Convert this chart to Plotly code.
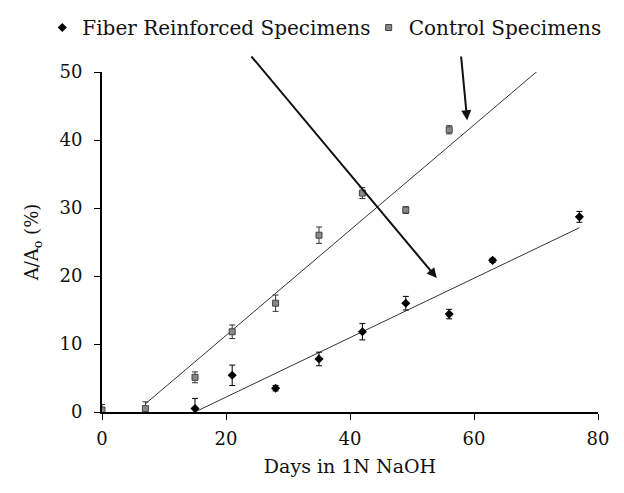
import plotly.graph_objects as go

# Data
fiber_days = [15, 21, 28, 35, 42, 49, 56, 63, 77]
fiber_vals = [0.5, 5.4, 3.5, 7.8, 11.8, 16.0, 14.4, 22.3, 28.7]
fiber_err = [1.5, 1.5, 0.4, 1.0, 1.2, 1.0, 0.7, 0.3, 0.8]

control_days = [0, 7, 15, 21, 28, 35, 42, 49, 56]
control_vals = [0.3, 0.5, 5.1, 11.8, 16.0, 26.0, 32.2, 29.7, 41.5]
control_err = [0.8, 1.0, 0.8, 1.0, 1.2, 1.2, 0.8, 0.5, 0.6]

# Linear fit lines (start day, end day, slope, intercept)
fiber_fit = dict(x0=15, x1=77, slope=0.437, intercept=-6.55)
control_fit = dict(x0=7, x1=70.6, slope=0.774, intercept=-4.22)

# Arrows (tail -> head) in data units
arrow_tails = [(23.9, 52.5), (57.9, 52.5)]
arrow_heads = [(54.0, 19.7), (58.9, 42.9)]

x_ticks = [0, 20, 40, 60, 80]
y_ticks = [0, 10, 20, 30, 40, 50]

FONT = "DejaVu Serif"

fig = go.Figure()

for fit in (control_fit, fiber_fit):
    xs = [fit["x0"], fit["x1"]]
    ys = [fit["slope"] * x + fit["intercept"] for x in xs]
    fig.add_trace(go.Scatter(x=xs, y=ys, mode="lines",
                             line=dict(color="#333333", width=1),
                             showlegend=False, hoverinfo="skip"))

fig.add_trace(go.Scatter(
    x=fiber_days, y=fiber_vals, mode="markers", name="Fiber Reinforced Specimens",
    marker=dict(symbol="diamond", size=7, color="black"),
    error_y=dict(type="data", array=fiber_err, color="black", thickness=1, width=3),
    legend="legend",
))
fig.add_trace(go.Scatter(
    x=control_days, y=control_vals, mode="markers", name="Control Specimens",
    marker=dict(symbol="square", size=6, color="#888888", line=dict(color="#444444", width=1)),
    error_y=dict(type="data", array=control_err, color="#333333", thickness=1, width=3),
    legend="legend2",
))

for (tx, ty), (hx, hy) in zip(arrow_tails, arrow_heads):
    fig.add_annotation(x=hx, y=hy, ax=tx, ay=ty, xref="x", yref="y",
                       axref="x", ayref="y", showarrow=True, arrowhead=2,
                       arrowsize=1, arrowwidth=2, arrowcolor="#111111", text="")

legend_common = dict(orientation="h", xref="container", yref="container",
                     xanchor="left", y=1.0, yanchor="top",
                     font=dict(family=FONT, size=20), itemwidth=30,
                     bgcolor="rgba(0,0,0,0)")

fig.update_layout(
    width=624, height=493,
    margin=dict(l=94, r=34, t=64, b=89),
    paper_bgcolor="white", plot_bgcolor="white",
    font=dict(family=FONT, size=18, color="#111111"),
    legend=dict(legend_common, x=0.055),
    legend2=dict(legend_common, x=0.578),
)
fig.update_xaxes(range=[0, 80], tickvals=x_ticks, showgrid=False, zeroline=False,
                 showline=True, linecolor="black", linewidth=2,
                 ticks="outside", ticklen=6, tickcolor="black", ticklabelstandoff=3,
                 title=dict(text="Days in 1N NaOH", font=dict(family=FONT, size=19), standoff=12),
                 tickfont=dict(family=FONT, size=18))
fig.update_yaxes(range=[0, 50], tickvals=y_ticks, showgrid=False, zeroline=False,
                 showline=True, linecolor="black", linewidth=2,
                 ticks="outside", ticklen=6, tickcolor="black", ticklabelstandoff=8,
                 title=dict(text="A/A<sub>o</sub> (%)", font=dict(family=FONT, size=18), standoff=16),
                 tickfont=dict(family=FONT, size=18))

fig.write_html("out.html")
